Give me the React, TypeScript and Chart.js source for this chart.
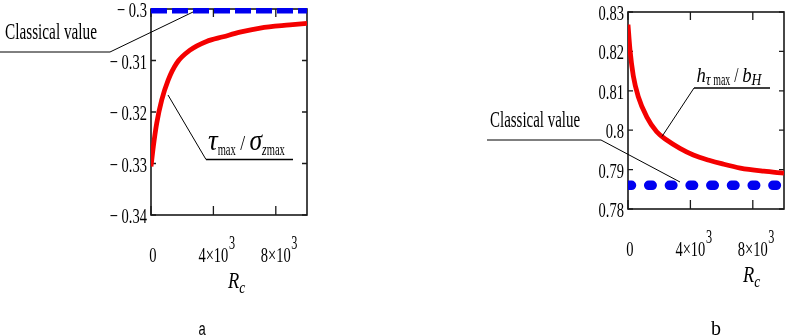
import React, { useEffect, useRef } from 'react';
import { Chart, registerables } from 'chart.js';

Chart.register(...registerables);

// ---------------- data ----------------
const rcRange = [0, 10000];

const rcA = [0, 150, 365, 685, 1100, 1650, 2500, 3560, 4630, 5700, 7000, 8900, 10000];
const tauRatioA = [-0.3306, -0.3267, -0.3222, -0.3177, -0.3138, -0.3105, -0.308, -0.3063, -0.3054, -0.3045, -0.3037, -0.3031, -0.3028];
const classicalA = -0.3;

const rcB = [0, 125, 340, 660, 1200, 1840, 2480, 3330, 4190, 5250, 6000, 7200, 8700, 10000];
const hRatioB = [0.8268, 0.8205, 0.8138, 0.8085, 0.8034, 0.7996, 0.7975, 0.7954, 0.7937, 0.7923, 0.7915, 0.7904, 0.7896, 0.7891];
const classicalB = 0.786;

const xTickValues = [0, 4000, 8000];
const xTickLabels = ['0', '4×10^3', '8×10^3'];

const yRangeA = [-0.34, -0.3];
const yTickValuesA = [-0.34, -0.33, -0.32, -0.31, -0.3];
const yTickLabelsA = ['\u2212 0.34', '\u2212 0.33', '\u2212 0.32', '\u2212 0.31', '\u2212 0.3'];

const yRangeB = [0.78, 0.83];
const yTickValuesB = [0.78, 0.79, 0.8, 0.81, 0.82, 0.83];
const yTickLabelsB = ['0.78', '0.79', '0.8', '0.81', '0.82', '0.83'];

// ---------------- styling helpers ----------------
const SERIF = '"Liberation Serif", "Times New Roman", serif';
const SANS = '"Liberation Sans", Arial, sans-serif';
const RED = '#f40000';
const BLUE = '#0000f0';
const W = 394;
const H = 336;

type Run = { t: string; font: string; sx: number; dy?: number };

function runsWidth(ctx: CanvasRenderingContext2D, runs: Run[]) {
  let w = 0;
  for (const r of runs) {
    ctx.font = r.font;
    w += ctx.measureText(r.t).width * r.sx;
  }
  return w;
}

function drawRuns(ctx: CanvasRenderingContext2D, x: number, y: number, runs: Run[]) {
  let cx = x;
  for (const r of runs) {
    ctx.save();
    ctx.font = r.font;
    ctx.textBaseline = 'alphabetic';
    ctx.textAlign = 'left';
    const w = ctx.measureText(r.t).width * r.sx;
    ctx.translate(cx, y + (r.dy || 0));
    ctx.scale(r.sx, 1);
    ctx.fillStyle = '#000';
    ctx.fillText(r.t, 0, 0);
    ctx.restore();
    cx += w;
  }
  return cx - x;
}

function polyline(ctx: CanvasRenderingContext2D, pts: number[][], width: number) {
  ctx.save();
  ctx.strokeStyle = '#000';
  ctx.lineWidth = width;
  ctx.beginPath();
  pts.forEach((p, i) => (i === 0 ? ctx.moveTo(p[0], p[1]) : ctx.lineTo(p[0], p[1])));
  ctx.stroke();
  ctx.restore();
}

const tickFont = `22px ${SERIF}`;
const TSX = 0.66;

interface Spec {
  xs: number[];
  ys: number[];
  classical: number;
  yRange: number[];
  yTicks: number[];
  yTickLabels: string[];
  area: { left: number; right: number; top: number; bottom: number };
  blue: { width: number; dash: number[]; cap: CanvasLineCap; clip: any };
  titleDx: number;
  annotate: (ctx: CanvasRenderingContext2D) => void;
}

const specA: Spec = {
  xs: rcA,
  ys: tauRatioA,
  classical: classicalA,
  yRange: yRangeA,
  yTicks: yTickValuesA,
  yTickLabels: yTickLabelsA,
  area: { left: 151, right: 307, top: 9, bottom: 215 },
  blue: { width: 9, dash: [16, 5], cap: 'butt', clip: { left: 0, top: 1, right: 0, bottom: 0 } },
  titleDx: 77,
  annotate: (ctx) => {
    drawRuns(ctx, 5, 38.5, [{ t: 'Classical value', font: `23px ${SERIF}`, sx: 0.664 }]);
    polyline(ctx, [[0, 52], [110, 52], [193, 12]], 1);
    // tau_max / sigma_zmax
    drawRuns(ctx, 208, 150, [
      { t: 'τ', font: `italic 30px ${SERIF}`, sx: 0.9 },
      { t: 'max', font: `17px ${SERIF}`, sx: 0.62, dy: 5 },
      { t: ' / ', font: `22px ${SERIF}`, sx: 0.8 },
      { t: 'σ', font: `italic 30px ${SERIF}`, sx: 0.85 },
      { t: 'z', font: `italic 17px ${SERIF}`, sx: 0.7, dy: 5 },
      { t: 'max', font: `17px ${SERIF}`, sx: 0.62, dy: 5 },
    ]);
    polyline(ctx, [[168, 95], [206, 159.5], [293, 159.5]], 1);
    polyline(ctx, [[206, 159.5], [293, 159.5]], 1.5);
    drawRuns(ctx, 198.5, 335, [{ t: 'a', font: `18px ${SANS}`, sx: 0.72 }]);
  },
};

const specB: Spec = {
  xs: rcB,
  ys: hRatioB,
  classical: classicalB,
  yRange: yRangeB,
  yTicks: yTickValuesB,
  yTickLabels: yTickLabelsB,
  area: { left: 234, right: 390, top: 12, bottom: 209 },
  blue: { width: 9.5, dash: [3.5, 17.2], cap: 'round', clip: { left: 0, top: 0, right: 0, bottom: 0 } },
  titleDx: 115,
  annotate: (ctx) => {
    drawRuns(ctx, 96, 126.5, [{ t: 'Classical value', font: `23px ${SERIF}`, sx: 0.65 }]);
    polyline(ctx, [[93, 140], [207, 140], [286, 182]], 1);
    drawRuns(ctx, 302.5, 81.5, [
      { t: 'h', font: `italic 22px ${SERIF}`, sx: 0.85 },
      { t: 'τ', font: `italic 17px ${SERIF}`, sx: 0.8, dy: 3 },
      { t: ' max', font: `16px ${SERIF}`, sx: 0.62, dy: 3 },
      { t: ' / ', font: `22px ${SERIF}`, sx: 0.7 },
      { t: 'b', font: `italic 22px ${SERIF}`, sx: 0.85 },
      { t: 'H', font: `italic 16px ${SERIF}`, sx: 0.85, dy: 3 },
    ]);
    polyline(ctx, [[268, 136.5], [300, 88]], 1);
    polyline(ctx, [[300, 88], [376, 88]], 1.5);
    drawRuns(ctx, 317, 335, [{ t: 'b', font: `20px ${SERIF}`, sx: 1 }]);
  },
};

function makeDeco(spec: Spec) {
  return {
    id: 'deco',
    beforeDatasetsDraw(chart: any) {
      const ctx: CanvasRenderingContext2D = chart.ctx;
      const { left, right, top, bottom } = chart.chartArea;
      const xs = chart.scales.x;
      const ys = chart.scales.y;
      ctx.save();
      ctx.strokeStyle = '#1a1a1a';
      ctx.lineWidth = 1.6;
      ctx.strokeRect(left, top, right - left, bottom - top);
      ctx.lineWidth = 1.3;
      ctx.beginPath();
      for (const v of spec.yTicks) {
        const py = ys.getPixelForValue(v);
        ctx.moveTo(left, py);
        ctx.lineTo(left + 5, py);
        ctx.moveTo(right, py);
        ctx.lineTo(right - 5, py);
      }
      for (const v of xTickValues) {
        const px = xs.getPixelForValue(v);
        ctx.moveTo(px, bottom);
        ctx.lineTo(px, bottom - 9);
        ctx.moveTo(px, top);
        ctx.lineTo(px, top + 8);
      }
      ctx.stroke();
      ctx.restore();
    },
    afterDatasetsDraw(chart: any) {
      const ctx: CanvasRenderingContext2D = chart.ctx;
      const { left, bottom } = chart.chartArea;
      const xs = chart.scales.x;
      const ys = chart.scales.y;
      // y tick labels
      spec.yTicks.forEach((v, i) => {
        const py = ys.getPixelForValue(v);
        const runs: Run[] = [{ t: spec.yTickLabels[i], font: tickFont, sx: TSX }];
        const w = runsWidth(ctx, runs);
        drawRuns(ctx, left - 4 - w, py + 8, runs);
      });
      // x tick labels
      xTickValues.forEach((v, i) => {
        const px = xs.getPixelForValue(v);
        const [base, sup] = xTickLabels[i].split('^');
        const baseRuns: Run[] = [{ t: base, font: tickFont, sx: TSX }];
        const w = runsWidth(ctx, baseRuns);
        const bx = px - w / 2 + (sup ? 0 : 2);
        const used = drawRuns(ctx, bx, bottom + 46.5, baseRuns);
        if (sup) drawRuns(ctx, bx + used + 0.5, bottom + 33.5, [{ t: sup, font: `18px ${SERIF}`, sx: 0.68 }]);
      });
      // axis title R_c
      drawRuns(ctx, left + spec.titleDx, bottom + 73, [
        { t: 'R', font: `italic 23px ${SERIF}`, sx: 0.8 },
        { t: 'c', font: `italic 17px ${SERIF}`, sx: 0.8, dy: 5 },
      ]);
      spec.annotate(ctx);
    },
  };
}

function Panel({ spec, offsetX }: { spec: Spec; offsetX: number }) {
  const ref = useRef<HTMLCanvasElement>(null);
  useEffect(() => {
    const canvas = ref.current!;
    const A = spec.area;
    const chart = new Chart(canvas, {
      type: 'line',
      data: {
        datasets: [
          {
            data: spec.xs.map((x, i) => ({ x, y: spec.ys[i] })),
            borderColor: RED,
            borderWidth: 4.8,
            pointRadius: 0,
            cubicInterpolationMode: 'monotone',
            fill: false,
          },
          {
            data: rcRange.map((x) => ({ x, y: spec.classical })),
            borderColor: BLUE,
            borderWidth: spec.blue.width,
            borderDash: spec.blue.dash,
            borderCapStyle: spec.blue.cap,
            pointRadius: 0,
            fill: false,
            clip: spec.blue.clip,
          },
        ],
      } as any,
      options: {
        animation: false,
        responsive: false,
        maintainAspectRatio: false,
        events: [],
        layout: { padding: { left: 0, right: W - A.right, top: A.top, bottom: 0 } },
        plugins: { legend: { display: false }, tooltip: { enabled: false } },
        scales: {
          x: {
            type: 'linear',
            min: rcRange[0],
            max: rcRange[1],
            grid: { display: false },
            border: { display: false },
            ticks: { display: false },
            afterFit: (s: any) => {
              s.height = H - A.bottom;
            },
          },
          y: {
            type: 'linear',
            min: spec.yRange[0],
            max: spec.yRange[1],
            grid: { display: false },
            border: { display: false },
            ticks: { display: false },
            afterFit: (s: any) => {
              s.width = A.left;
            },
          },
        },
      } as any,
      plugins: [makeDeco(spec)],
    });
    return () => chart.destroy();
  }, []);
  return (
    <canvas
      ref={ref}
      width={W}
      height={H}
      style={{ position: 'absolute', left: offsetX, top: 0, width: W, height: H }}
    />
  );
}

export default function App() {
  return (
    <div style={{ position: 'fixed', left: 0, top: 0, width: 788, height: 336, background: '#fff' }}>
      <Panel spec={specA} offsetX={0} />
      <Panel spec={specB} offsetX={394} />
    </div>
  );
}
